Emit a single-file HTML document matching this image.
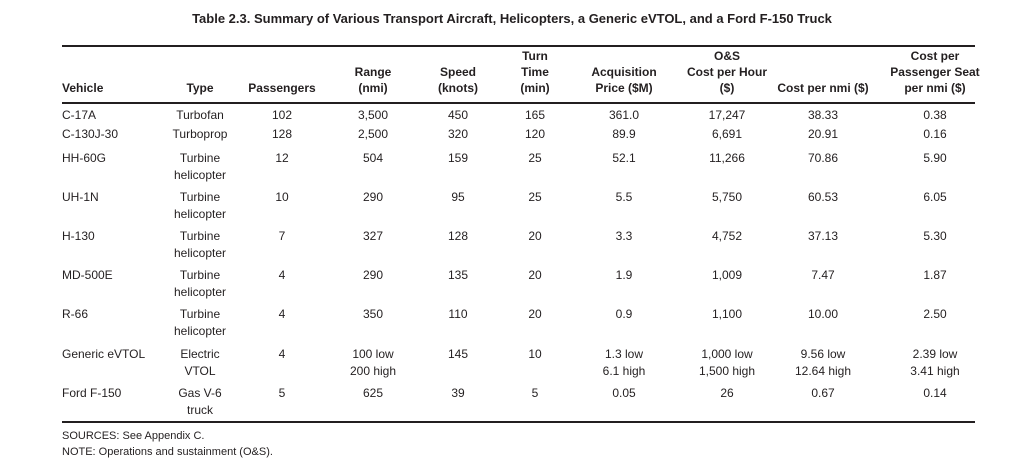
<!DOCTYPE html>
<html><head><meta charset="utf-8"><style>
body{margin:0;width:1024px;height:468px;background:#fff;position:relative;font-family:"Liberation Sans",Arial,sans-serif;color:#231f20;overflow:hidden}
.t{position:absolute;font-size:12px;line-height:16px;white-space:nowrap}
.c{width:140px;text-align:center}
.b{font-weight:bold}
.l{position:absolute;left:62px;width:913px;background:#231f20}
</style></head><body>
<div class="t b" style="left:0;width:1024px;text-align:center;top:11px;font-size:13px">Table 2.3. Summary of Various Transport Aircraft, Helicopters, a Generic eVTOL, and a Ford F-150 Truck</div>
<div class="l" style="top:45px;height:2px"></div>
<div class="l" style="top:102px;height:2px"></div>
<div class="l" style="top:421px;height:2px"></div>
<div id="h"></div>
<div id="r"></div>
<div class="t" style="left:62px;top:428px;font-size:11px">SOURCES: See Appendix C.</div>
<div class="t" style="left:62px;top:444px;font-size:11px">NOTE: Operations and sustainment (O&amp;S).</div>
<script>
const cols=[null,200,282,373,458,535,624,727,823,935];
const H=[["Vehicle"],["Type"],["Passengers"],["Range","(nmi)"],["Speed","(knots)"],["Turn","Time","(min)"],["Acquisition","Price ($M)"],["O&S","Cost per Hour","($)"],["Cost per nmi ($)"],["Cost per","Passenger Seat","per nmi ($)"]];
let s="";
H.forEach((h,i)=>{const top=98-16*h.length-2;
 const st=i==0?`left:62px;`:`left:${cols[i]-70}px;`;
 s+=`<div class="t b ${i?'c':''}" style="${st}top:${top}px">${h.map(x=>x.replace('&','&amp;')).join('<br>')}</div>`;});
const R=[
[107,"C-17A","Turbofan","102","3,500","450","165","361.0","17,247","38.33","0.38"],
[126,"C-130J-30","Turboprop","128","2,500","320","120","89.9","6,691","20.91","0.16"],
[150,"HH-60G","Turbine<br>helicopter","12","504","159","25","52.1","11,266","70.86","5.90"],
[189,"UH-1N","Turbine<br>helicopter","10","290","95","25","5.5","5,750","60.53","6.05"],
[228,"H-130","Turbine<br>helicopter","7","327","128","20","3.3","4,752","37.13","5.30"],
[267,"MD-500E","Turbine<br>helicopter","4","290","135","20","1.9","1,009","7.47","1.87"],
[306,"R-66","Turbine<br>helicopter","4","350","110","20","0.9","1,100","10.00","2.50"],
[346,"Generic eVTOL","Electric<br>VTOL","4","100 low<br>200 high","145","10","1.3 low<br>6.1 high","1,000 low<br>1,500 high","9.56 low<br>12.64 high","2.39 low<br>3.41 high"],
[385,"Ford F-150","Gas V-6<br>truck","5","625","39","5","0.05","26","0.67","0.14"]];
R.forEach(r=>{const top=r[0];
 s+=`<div class="t" style="left:62px;top:${top}px">${r[1]}</div>`;
 for(let i=2;i<=10;i++){s+=`<div class="t c" style="left:${cols[i-1]-70}px;top:${top}px;line-height:17px">${r[i]}</div>`;}});
document.getElementById('r').innerHTML=s;
</script>
</body></html>
